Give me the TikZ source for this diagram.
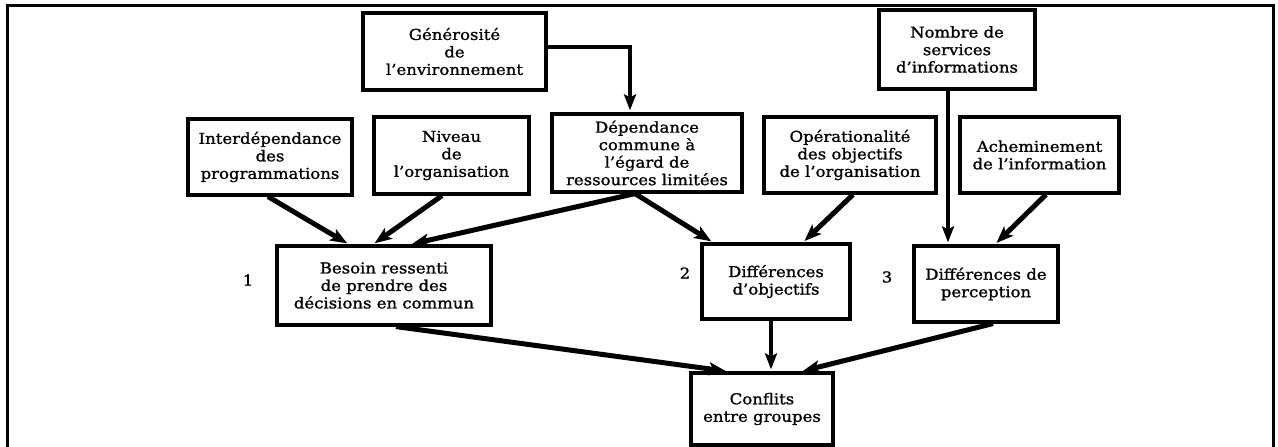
\documentclass[tikz,border=0pt]{standalone}
\usepackage{fontspec}
\setmainfont{DejaVu Serif}[FakeStretch=1.1,FakeBold=1.2]
\usetikzlibrary{arrows.meta}
\tikzset{
  box/.style={draw, line width=3.2pt, align=center, inner sep=0pt,
    font=\fontsize{15}{17.5}\selectfont},
  bx/.style 2 args={minimum width=#1pt, minimum height=#2pt},
  numlabel/.style={inner sep=0pt, font=\fontsize{15}{17.5}\selectfont},
  arr/.style={line width=5pt, shorten >=2pt, -{Stealth[length=17pt,width=13pt,inset=4pt]}},
  thinarr/.style={line width=3.4pt, shorten >=2pt, -{Stealth[length=16pt,width=12pt,inset=3pt]}},
  frame/.style={line width=3pt}
}
\begin{document}
\begin{tikzpicture}[x=1pt,y=-1pt]
\useasboundingbox (0,0) rectangle (1278,447);
\draw[frame] (7,447) -- (7,5) -- (1273,5) -- (1273,447);

\node[box, bx={183}{77}] (gen) at (454.5,51.5) {Générosité\\de\\l'environnement};
\node[box, bx={156}{79}] (nom) at (957,49.5) {Nombre de\\services\\d'informations};
\node[box, bx={164}{76}] (inter) at (270,157) {Interdépendance\\des\\programmations};
\node[box, bx={155}{77}] (niv) at (451.5,155.5) {Niveau\\de\\l'organisation};
\node[box, bx={190}{78}] (dep) at (647,153) {Dépendance\\commune à\\l'égard de\\ressources limitées};
\node[box, bx={172}{76}] (ope) at (850,155) {Opérationalité\\des objectifs\\de l'organisation};
\node[box, bx={159}{76}] (ach) at (1039.5,155) {Acheminement\\de l'information};
\node[box, bx={214}{79}] (bes) at (384,285.5) {Besoin ressenti\\de prendre des\\décisions en commun};
\node[box, bx={148}{75}] (dob) at (776,281.5) {Différences\\d'objectifs};
\node[box, bx={144}{76}] (dpe) at (986,284) {Différences de\\perception};
\node[box, bx={142}{72}] (con) at (762,409) {Conflits\\entre groupes};

\node[numlabel] (l1) at (248,280) {1};
\node[numlabel] (l2) at (685,273) {2};
\node[numlabel] (l3) at (887,277) {3};

\draw[thinarr] ([yshift=4.5pt]gen.east) -| ([xshift=-17pt]dep.north);
\draw[arr] ([xshift=-2pt]inter.south) -- ([xshift=-35pt]bes.north);
\draw[arr] ([xshift=-9.5pt]niv.south) -- ([xshift=-11pt]bes.north);
\draw[arr] ([xshift=-12pt]dep.south) -- ([xshift=26pt]bes.north);
\draw[arr] ([xshift=-12pt]dep.south) -- ([xshift=-63pt]dob.north);
\draw[arr] ([xshift=3pt]ope.south) -- ([xshift=27pt]dob.north);
\draw[thinarr] ([xshift=-9pt]nom.south) -- ([xshift=-38pt]dpe.north);
\draw[arr] ([xshift=6.5pt]ach.south) -- ([xshift=9pt]dpe.north);
\draw[arr] ([xshift=12pt]bes.south) -- ([xshift=-34pt]con.north);
\draw[thinarr] ([xshift=-5pt]dob.south) -- ([xshift=9pt]con.north);
\draw[arr] ([xshift=7pt]dpe.south) -- ([xshift=39pt]con.north);
\end{tikzpicture}
\end{document}
